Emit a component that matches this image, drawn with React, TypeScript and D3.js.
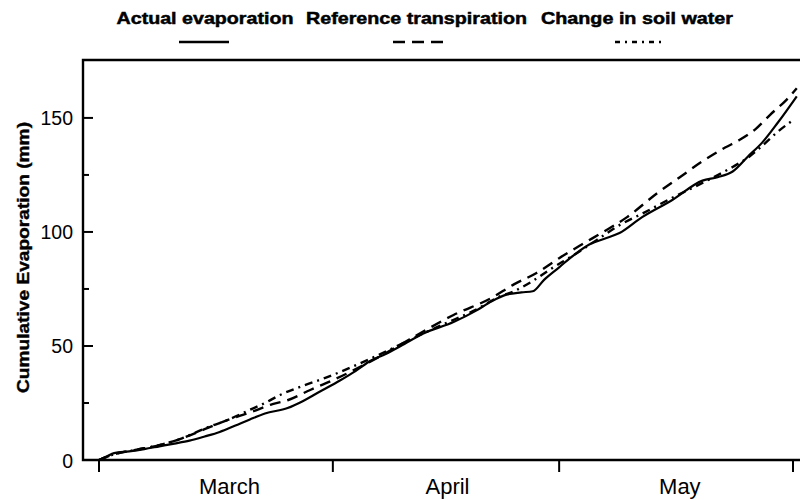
import { useEffect, useRef } from 'react'
import * as d3 from 'd3'

// days since 1 March, cumulative mm
const actualEvap = [
	[0, 0], [1, 1.5], [2, 3], [4, 3.8], [6, 4.8], [8, 6], [10, 7.2], [12, 8.5], [14, 10.3],
	[16, 12.3], [18, 15], [20, 17.8], [22, 20.4], [25, 22.8], [27, 25.8], [29, 29.5], [32, 35],
	[34, 39], [36, 43.5], [38, 46.5], [40, 50], [43, 55.5], [47, 60.5], [50, 65.5], [52, 69.5],
	[54, 72.5], [56, 73.5], [57.5, 74], [59, 79], [61, 84.5], [63, 90], [65, 94.5], [67, 97],
	[69, 99.5], [72, 106.5], [76, 114], [80, 122.5], [82, 124], [84, 126.5], [86, 133],
	[88, 139.5], [90, 148], [92.5, 159.5],
]

const refTransp = [
	[0, 0], [2, 2.5], [5, 4.5], [8, 6.5], [11, 9.5], [14, 13.5], [17, 17.5], [20, 20.8],
	[23, 24.5], [25, 26.2], [28, 30.7], [31, 35], [37, 45], [42, 54.5], [47, 63.6], [52, 71],
	[55, 77], [58, 82], [61, 88.5], [64, 94.5], [67, 100.3], [70, 106.5], [74, 117], [77, 124],
	[80, 131], [83, 137], [85, 140.5], [87, 145], [89, 151.5], [91, 157.5], [92.5, 163],
]

const soilWater = [
	[0, 0], [2, 2.5], [5, 4.5], [8, 6.5], [11, 9.5], [14, 13.8], [17, 17.5], [20, 22],
	[22, 25], [24, 28.5], [27, 32.5], [30, 36], [34, 41.5], [38, 47.5], [42, 54], [46, 60],
	[50, 66], [53, 71.5], [55, 74], [57, 77.5], [60, 84], [63, 90], [66, 96.5], [69, 103],
	[72, 108], [76, 115], [80, 121.5], [84, 128.5], [86, 132.5], [88, 138], [90, 144], [92, 149],
]

const monthTicks = [0, 31, 61, 92]
const monthLabels = [
	{ name: 'March', day: 17.3 },
	{ name: 'April', day: 46.2 },
	{ name: 'May', day: 77 },
]
const yMajor = [0, 50, 100, 150]
const yMinor = [25, 75, 125]

const seriesNames = ['Actual evaporation', 'Reference transpiration', 'Change in soil water']
const dashes = ['none', '11,7', '8,5,2,5']

// legend layout: text centre, text width, sample centre, sample dash
const legendLayout = [
	{ cx: 205, w: 177, lx: 204, dash: 'none' },
	{ cx: 416.5, w: 221, lx: 418, dash: '12,7' },
	{ cx: 637, w: 192, lx: 640, dash: '5,5,2,5' },
]

const App = () => {
	const svgRef = useRef(null)

	useEffect(() => {
		const width = 804
		const height = 500
		const frame = { left: 83, right: 800, top: 60, bottom: 460 }
		const font = 'Liberation Sans, Arial, Helvetica, sans-serif'

		const svg = d3.select(svgRef.current)
		svg.selectAll('*').remove()
		svg.attr('width', width).attr('height', height)

		const x = d3.scaleLinear().domain([0, 92]).range([99, 793])
		const y = d3.scaleLinear().domain([0, 175.4]).range([frame.bottom, frame.top])

		// frame: top, left, bottom (no right spine)
		svg.append('path')
			.attr('d', `M${frame.right},${frame.top}H${frame.left}V${frame.bottom}H${frame.right}`)
			.attr('fill', 'none')
			.attr('stroke', '#000')
			.attr('stroke-width', 2.4)

		// x ticks
		svg.append('g')
			.selectAll('line')
			.data(monthTicks)
			.join('line')
			.attr('x1', (d) => x(d))
			.attr('x2', (d) => x(d))
			.attr('y1', frame.bottom)
			.attr('y2', frame.bottom + 12)
			.attr('stroke', '#000')
			.attr('stroke-width', 2)

		svg.append('g')
			.selectAll('text')
			.data(monthLabels)
			.join('text')
			.attr('x', (d) => x(d.day))
			.attr('y', 494)
			.attr('text-anchor', 'middle')
			.style('font-family', font)
			.style('font-size', '22px')
			.text((d) => d.name)

		// y ticks (inward)
		svg.append('g')
			.selectAll('line')
			.data(yMajor.filter((d) => d > 0))
			.join('line')
			.attr('x1', frame.left)
			.attr('x2', frame.left + 10)
			.attr('y1', (d) => y(d))
			.attr('y2', (d) => y(d))
			.attr('stroke', '#000')
			.attr('stroke-width', 2)

		svg.append('g')
			.selectAll('line')
			.data(yMinor)
			.join('line')
			.attr('x1', frame.left)
			.attr('x2', frame.left + 6)
			.attr('y1', (d) => y(d))
			.attr('y2', (d) => y(d))
			.attr('stroke', '#000')
			.attr('stroke-width', 2)

		svg.append('g')
			.selectAll('text')
			.data(yMajor)
			.join('text')
			.attr('x', 73)
			.attr('y', (d) => y(d) + 7.5)
			.attr('text-anchor', 'end')
			.style('font-family', font)
			.style('font-size', '19.5px')
			.text((d) => d)

		svg.append('text')
			.attr('transform', `translate(28.5,257.5) rotate(-90)`)
			.attr('text-anchor', 'middle')
			.attr('textLength', 271)
			.attr('lengthAdjust', 'spacingAndGlyphs')
			.style('font-family', font)
			.style('font-size', '17px')
			.style('font-weight', 'bold')
			.attr('stroke', '#000')
			.attr('stroke-width', 0.4)
			.text('Cumulative Evaporation (mm)')

		// curves
		const line = d3.line()
			.x((d) => x(d[0]))
			.y((d) => y(d[1]))
			.curve(d3.curveMonotoneX)

		const series = [actualEvap, refTransp, soilWater]
		series.forEach((s, i) => {
			svg.append('path')
				.datum(s)
				.attr('d', line)
				.attr('fill', 'none')
				.attr('stroke', '#000')
				.attr('stroke-width', i === 0 ? 2.2 : 2.4)
				.attr('stroke-dasharray', dashes[i])
		})

		// legend
		const legend = svg.append('g')
			.selectAll('g')
			.data(seriesNames)
			.join('g')

		legend.append('text')
			.attr('x', (d, i) => legendLayout[i].cx)
			.attr('y', 24)
			.attr('text-anchor', 'middle')
			.attr('textLength', (d, i) => legendLayout[i].w)
			.attr('lengthAdjust', 'spacingAndGlyphs')
			.style('font-family', font)
			.style('font-size', '17px')
			.style('font-weight', 'bold')
			.attr('stroke', '#000')
			.attr('stroke-width', 0.5)
			.text((d) => d)

		legend.append('line')
			.attr('x1', (d, i) => legendLayout[i].lx - 25)
			.attr('x2', (d, i) => legendLayout[i].lx + 25)
			.attr('y1', 42)
			.attr('y2', 42)
			.attr('stroke', '#000')
			.attr('stroke-width', 2.6)
			.attr('stroke-dasharray', (d, i) => legendLayout[i].dash)
	}, [])

	return <svg ref={svgRef} style={{ position: 'absolute', left: 0, top: 0 }}></svg>
}

export default App
